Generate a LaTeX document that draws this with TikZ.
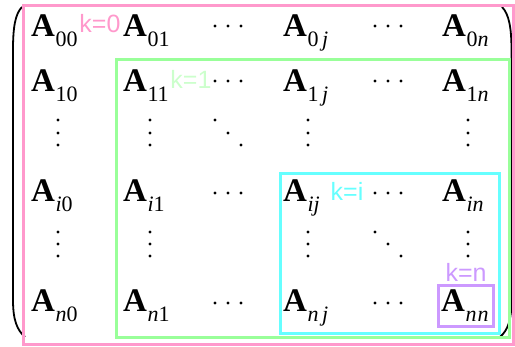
\documentclass[tikz,border=0pt]{standalone}
\usepackage{fontspec}
\setmainfont{Liberation Serif}
\setsansfont{Liberation Sans}
\definecolor{kpink}{RGB}{255,153,204}
\definecolor{kgreen}{RGB}{153,255,153}
\definecolor{kpale}{RGB}{204,255,204}
\definecolor{kcyan}{RGB}{102,255,255}
\definecolor{kpurple}{RGB}{204,153,255}
\newcommand\Ae[1]{\textbf{A}\kern0.5pt\raisebox{-9.5pt}{\fontsize{22}{22}\selectfont #1}}
\begin{document}
\begin{tikzpicture}[x=1pt,y=-1pt,
  ent/.style={anchor=base west,inner sep=0pt,font=\fontsize{33}{33}\selectfont},
  klab/.style={font=\sffamily\fontsize{25}{25}\selectfont,inner sep=0pt},
  box/.style={line width=3pt},
  paren/.style={line width=1.8pt}]
\useasboundingbox (0,0) rectangle (515,347);
% parentheses
\draw[paren] (22,7) .. controls (15,14) and (13,28) .. (13,50) -- (13,300) .. controls (13,320) and (17,330) .. (25,337);
\draw[paren] (502,7) .. controls (509,14) and (511.5,28) .. (511.5,50) -- (511.5,300) .. controls (511.5,320) and (508,330) .. (500,337);
% entries
\node[ent] (a00) at (31,37) {\Ae{00}};
\node[ent] (a01) at (123,37) {\Ae{01}};
\node[ent] (a0j) at (283,37) {\Ae{0\,\textit{j}}};
\node[ent] (a0n) at (442,37) {\Ae{0\textit{n}}};
\node[ent] (a10) at (31,92) {\Ae{10}};
\node[ent] (a11) at (123,92) {\Ae{11}};
\node[ent] (a1j) at (283,92) {\Ae{1\,\textit{j}}};
\node[ent] (a1n) at (442,92) {\Ae{1\textit{n}}};
\node[ent] (ai0) at (31,202) {\Ae{\textit{i}0}};
\node[ent] (ai1) at (123,202) {\Ae{\textit{i}1}};
\node[ent] (aij) at (283,202) {\Ae{\textit{ij}}};
\node[ent] (ain) at (442,202) {\Ae{\textit{in}}};
\node[ent] (an0) at (31,312) {\Ae{\textit{n}0}};
\node[ent] (an1) at (123,312) {\Ae{\textit{n}1}};
\node[ent] (anj) at (283,312) {\Ae{\textit{n\,j}}};
\begin{scope}
  \clip (0,0) rectangle (492,347);
  \node[ent] (ann) at (441,312) {\Ae{\textit{n\kern1pt n}}};
\end{scope}
% horizontal dots
\foreach \y in {26,81,193,303}{
  \foreach \x in {215,228,241,375,388,401}{
    \fill (\x,\y) circle[radius=1.7pt];
  }
}
% vertical dots
\foreach \y in {120,133,145,232,244,256}{
  \foreach \x in {58,150,308,468}{
    \fill (\x,\y) circle[radius=1.7pt];
  }
}
% diagonal dots
\fill (215,120) circle[radius=1.7pt] (228,133) circle[radius=1.7pt] (241,145) circle[radius=1.7pt];
\fill (375,232) circle[radius=1.7pt] (388,244) circle[radius=1.7pt] (401,256) circle[radius=1.7pt];
% boxes
\draw[box,kpink] (23,6) rectangle (513.5,344.5);
\draw[box,kgreen] (116,60) rectangle (509,338);
\draw[box,kcyan] (280.5,174) rectangle (499,333.5);
\draw[box,kpurple] (438.5,286) rectangle (493,326.5);
% labels
\node[klab,text=kpink] (k0) at (100,24) {k=0};
\node[klab,text=kpale] (k1) at (191,79) {k=1};
\node[klab,text=kcyan] (ki) at (347,191) {k=i};
\node[klab,text=kpurple] (kn) at (466,272) {k=n};
\end{tikzpicture}
\end{document}
